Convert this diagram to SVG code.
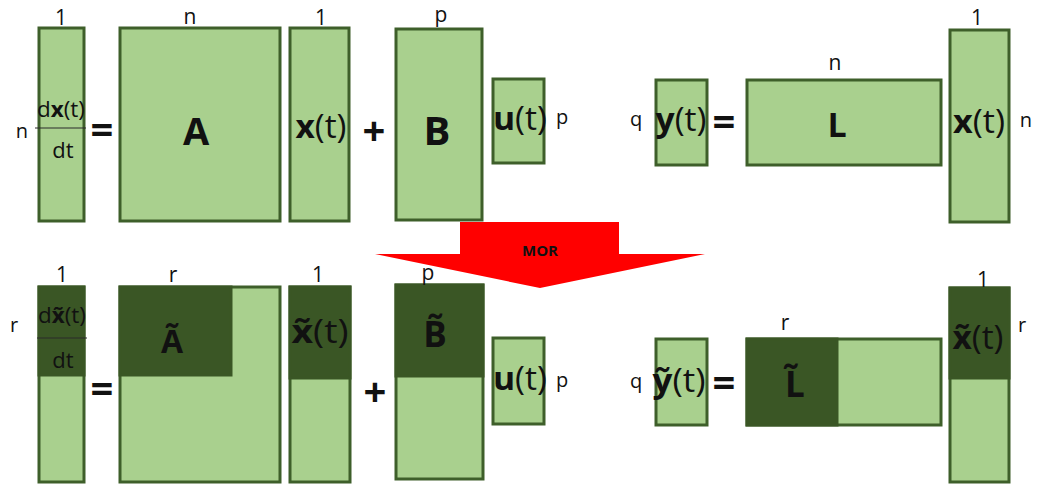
<svg xmlns="http://www.w3.org/2000/svg" width="1037" height="484" viewBox="0 0 1037 484">
<style>
text{font-family:"Open Sans","DejaVu Sans",sans-serif;fill:#111;text-anchor:middle}
.lb{font-size:21px}
.sm{font-size:20px}
.big{font-weight:bold}
.op{font-weight:bold;font-size:40px}
.m{fill:#a9d08e;stroke:#3e5f2a;stroke-width:3}
.d{fill:#3a5625;stroke:#3a5625;stroke-width:3}
.ln{stroke:#2a2a2a;stroke-width:1.2}
</style>
<rect width="1037" height="484" fill="#fff"/>

<!-- top row -->
<g id="dxdt">
<rect class="m" x="39" y="28" width="45" height="193"/>
<text class="lb" x="61" y="25">1</text>
<text class="sm" x="22" y="138">n</text>
<text x="61" y="117" font-size="22" textLength="48" lengthAdjust="spacingAndGlyphs">d<tspan font-weight="bold">x</tspan>(t)</text>
<line class="ln" x1="35" y1="128" x2="86" y2="128"/>
<text x="63" y="158" font-size="22">dt</text>
</g>
<text class="op" x="102" y="144">=</text>
<g id="A">
<rect class="m" x="120" y="28" width="160" height="193"/>
<text class="lb" x="190" y="24">n</text>
<text class="big" x="196" y="145" font-size="38">A</text>
</g>
<g id="x1">
<rect class="m" x="290" y="28" width="59" height="193"/>
<text class="lb" x="321" y="25">1</text>
<text x="321" y="138" font-size="32" textLength="51" lengthAdjust="spacingAndGlyphs"><tspan font-weight="bold">x</tspan>(t)</text>
</g>
<text class="op" x="374" y="145">+</text>
<g id="B">
<rect class="m" x="396" y="29" width="86" height="191"/>
<text class="lb" x="441" y="22">p</text>
<text class="big" x="437" y="145" font-size="40">B</text>
</g>
<g id="u1">
<rect class="m" x="493" y="79" width="51" height="84"/>
<text x="520" y="130" font-size="32" textLength="54" lengthAdjust="spacingAndGlyphs"><tspan font-weight="bold">u</tspan>(t)</text>
<text class="sm" x="562" y="124">p</text>
</g>
<g id="y1">
<rect class="m" x="656" y="80" width="51" height="85"/>
<text class="sm" x="636" y="126">q</text>
<text x="681" y="131" font-size="32" textLength="51" lengthAdjust="spacingAndGlyphs"><tspan font-weight="bold">y</tspan>(t)</text>
</g>
<text class="op" x="724" y="136">=</text>
<g id="L">
<rect class="m" x="747" y="80" width="194" height="85"/>
<text class="lb" x="835" y="70">n</text>
<text class="big" x="837" y="137" font-size="34">L</text>
</g>
<g id="x2">
<rect class="m" x="950" y="30" width="59" height="192"/>
<text class="lb" x="977" y="25">1</text>
<text x="979" y="133" font-size="32" textLength="52" lengthAdjust="spacingAndGlyphs"><tspan font-weight="bold">x</tspan>(t)</text>
<text class="sm" x="1026" y="127">n</text>
</g>

<!-- MOR arrow -->
<g id="MOR">
<polygon points="460,222 619,222 619,254 705,254 540,288 375,254 460,254" fill="#ff0000"/>
<text x="540" y="256" font-size="15" font-weight="bold">MOR</text>
</g>

<!-- bottom row -->
<g id="dxdt_r">
<rect class="m" x="39" y="287" width="45" height="195"/>
<rect class="d" x="39" y="287" width="45" height="88"/>
<text class="lb" x="62" y="282">1</text>
<text class="sm" x="14" y="332">r</text>
<text x="62" y="323" font-size="22" textLength="48" lengthAdjust="spacingAndGlyphs">d<tspan font-weight="bold">x̃</tspan>(t)</text>
<line class="ln" x1="37" y1="338" x2="87" y2="338"/>
<text x="63" y="368" font-size="22">dt</text>
</g>
<text class="op" x="102" y="403">=</text>
<g id="Ar">
<rect class="m" x="120" y="287" width="160" height="195"/>
<rect class="d" x="120" y="287" width="111" height="88"/>
<text class="lb" x="173" y="282">r</text>
<text class="big" x="172" y="353" font-size="32">Ã</text>
</g>
<g id="xr1">
<rect class="m" x="290" y="287" width="60" height="195"/>
<rect class="d" x="290" y="287" width="60" height="91"/>
<text class="lb" x="318" y="282">1</text>
<text x="320" y="343" font-size="32" textLength="57" lengthAdjust="spacingAndGlyphs"><tspan font-weight="bold">x̃</tspan>(t)</text>
</g>
<text class="op" x="375" y="406">+</text>
<g id="Br">
<rect class="m" x="396" y="285" width="87" height="194"/>
<rect class="d" x="396" y="285" width="87" height="91"/>
<text class="lb" x="428" y="280">p</text>
<text class="big" x="435" y="347" font-size="35">B̃</text>
</g>
<g id="u2">
<rect class="m" x="493" y="338" width="51" height="86"/>
<text x="520" y="390" font-size="32" textLength="54" lengthAdjust="spacingAndGlyphs"><tspan font-weight="bold">u</tspan>(t)</text>
<text class="sm" x="562" y="387">p</text>
</g>
<g id="yr">
<rect class="m" x="656" y="339" width="51" height="86"/>
<text class="sm" x="636" y="388">q</text>
<text x="679" y="392" font-size="32" textLength="53" lengthAdjust="spacingAndGlyphs"><tspan font-weight="bold">ỹ</tspan>(t)</text>
</g>
<text class="op" x="724" y="397">=</text>
<g id="Lr">
<rect class="m" x="747" y="339" width="194" height="86"/>
<rect class="d" x="747" y="339" width="90" height="86"/>
<text class="lb" x="785" y="330">r</text>
<text class="big" x="795" y="397" font-size="35">L̃</text>
</g>
<g id="xr2">
<rect class="m" x="950" y="288" width="59" height="194"/>
<rect class="d" x="950" y="288" width="59" height="90"/>
<text class="lb" x="983" y="287">1</text>
<text x="978" y="349" font-size="32" textLength="51" lengthAdjust="spacingAndGlyphs"><tspan font-weight="bold">x̃</tspan>(t)</text>
<text class="sm" x="1022" y="332">r</text>
</g>
</svg>
